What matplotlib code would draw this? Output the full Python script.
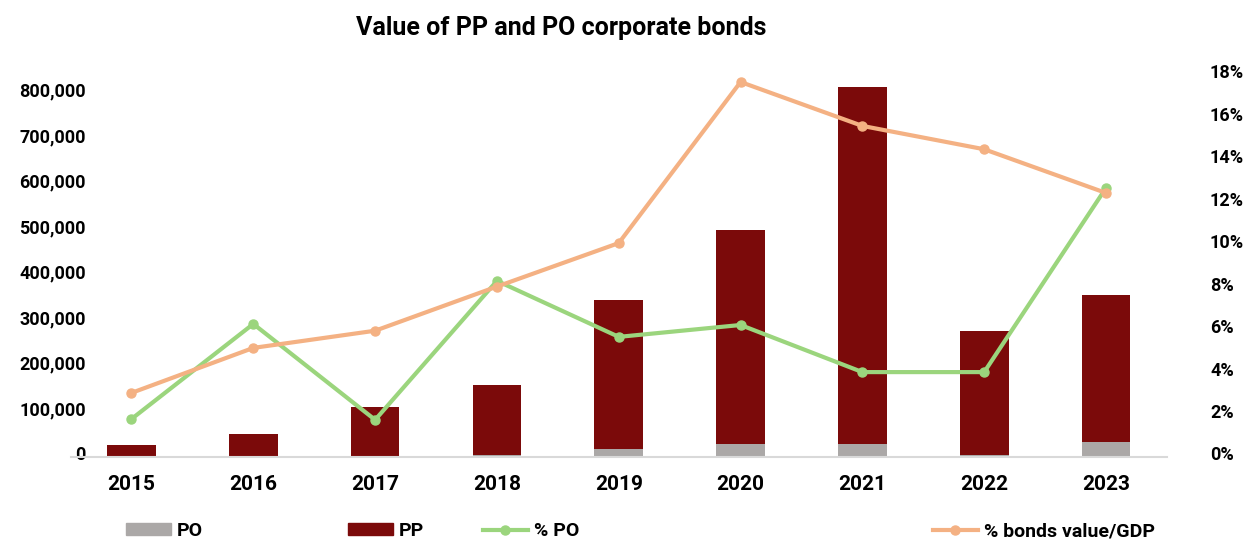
import matplotlib
matplotlib.use("Agg")
import matplotlib.pyplot as plt
from matplotlib.ticker import FuncFormatter, FixedLocator
from matplotlib.lines import Line2D
from matplotlib.patches import Patch
from matplotlib.transforms import ScaledTranslation
import numpy as np

plt.rcParams['font.family'] = ['Roboto', 'DejaVu Sans']

years = ["2015", "2016", "2017", "2018", "2019", "2020", "2021", "2022", "2023"]
po_value = [1000, 1000, 1000, 4000, 17500, 28500, 28500, 4000, 33000]
total_value = [27000, 50500, 109000, 158000, 345000, 499000, 813000, 277000, 356000]
pp_value = [t - p for t, p in zip(total_value, po_value)]
pct_po = [1.79, 6.27, 1.75, 8.3, 5.66, 6.22, 4.0, 4.0, 12.68]
pct_gdp = [3.02, 5.14, 5.95, 8.03, 10.08, 17.67, 15.6, 14.5, 12.44]

C_PO = "#ABA8A7"
C_PP = "#7B0A0A"
C_GREEN = "#9BD57D"
C_ORANGE = "#F4B183"

fig = plt.figure(figsize=(12.45, 5.43), dpi=100)
ax = fig.add_axes([0.0567, 0.1584, 0.8806, 0.7035])
x = np.arange(len(years))
ax.bar(x, po_value, width=0.4, color=C_PO, zorder=2)
ax.bar(x, pp_value, width=0.4, bottom=po_value, color=C_PP, zorder=2)
ax.set_xlim(-0.5, len(years) - 0.5)
ax.set_ylim(0, 839600)
ax.yaxis.set_major_locator(FixedLocator(np.arange(0, 800001, 100000)))
ax.yaxis.set_major_formatter(FuncFormatter(lambda v, p: f"{int(v):,}"))
for s in ["top", "right", "left"]:
    ax.spines[s].set_visible(False)
ax.spines["bottom"].set_color("#D9D9D9")
ax.spines["bottom"].set_linewidth(1.5)
ax.set_xticks(x)
ax.set_xticklabels(years, fontsize=15, fontweight="bold")
ax.tick_params(axis="x", length=0, pad=13)
ax.tick_params(axis="y", length=0, pad=-11, labelsize=13)

ax2 = ax.twinx()
ax2.plot(x, pct_po, color=C_GREEN, lw=3, marker="o", ms=6.5, zorder=3)
ax2.plot(x, pct_gdp, color=C_ORANGE, lw=3, marker="o", ms=6.5, zorder=4)
ax2.set_ylim(0, 18)
ax2.yaxis.set_major_locator(FixedLocator(np.arange(0, 19, 2)))
ax2.yaxis.set_major_formatter(FuncFormatter(lambda v, p: f"{int(v)}%"))
for s in ["top", "right", "left", "bottom"]:
    ax2.spines[s].set_visible(False)
ax2.tick_params(axis="y", length=0, pad=31, labelsize=13)

up = ScaledTranslation(0, 3.5 / 100, fig.dpi_scale_trans)
for tk in ax.yaxis.get_major_ticks(9):
    tk.label1.set_transform(tk.label1.get_transform() + up)
    tk.label1.set_fontweight("bold")
for tk in ax2.yaxis.get_major_ticks(10):
    tk.label2.set_transform(tk.label2.get_transform() + up)
    tk.label2.set_fontweight("bold")

fig.text(0.451, 0.948, "Value of PP and PO corporate bonds", ha="center", va="center",
         fontsize=18, fontweight="bold")

items = [
    (Patch(color=C_PO), "PO", 126 / 1245),
    (Patch(color=C_PP), "PP", 348 / 1245),
    (Line2D([0], [0], color=C_GREEN, lw=3, marker="o", ms=6.5), "% PO", 483 / 1245),
    (Line2D([0], [0], color=C_ORANGE, lw=3, marker="o", ms=6.5), "% bonds value/GDP", 933 / 1245),
]
for h, lab, xpos in items:
    fig.legend([h], [lab], loc="center left", bbox_to_anchor=(xpos, 0.022),
               frameon=False, prop={"weight": "bold", "size": 14},
               handlelength=2.3, handleheight=0.52, handletextpad=0.3,
               borderaxespad=0, borderpad=0)

fig.savefig("out.png", dpi=100)
